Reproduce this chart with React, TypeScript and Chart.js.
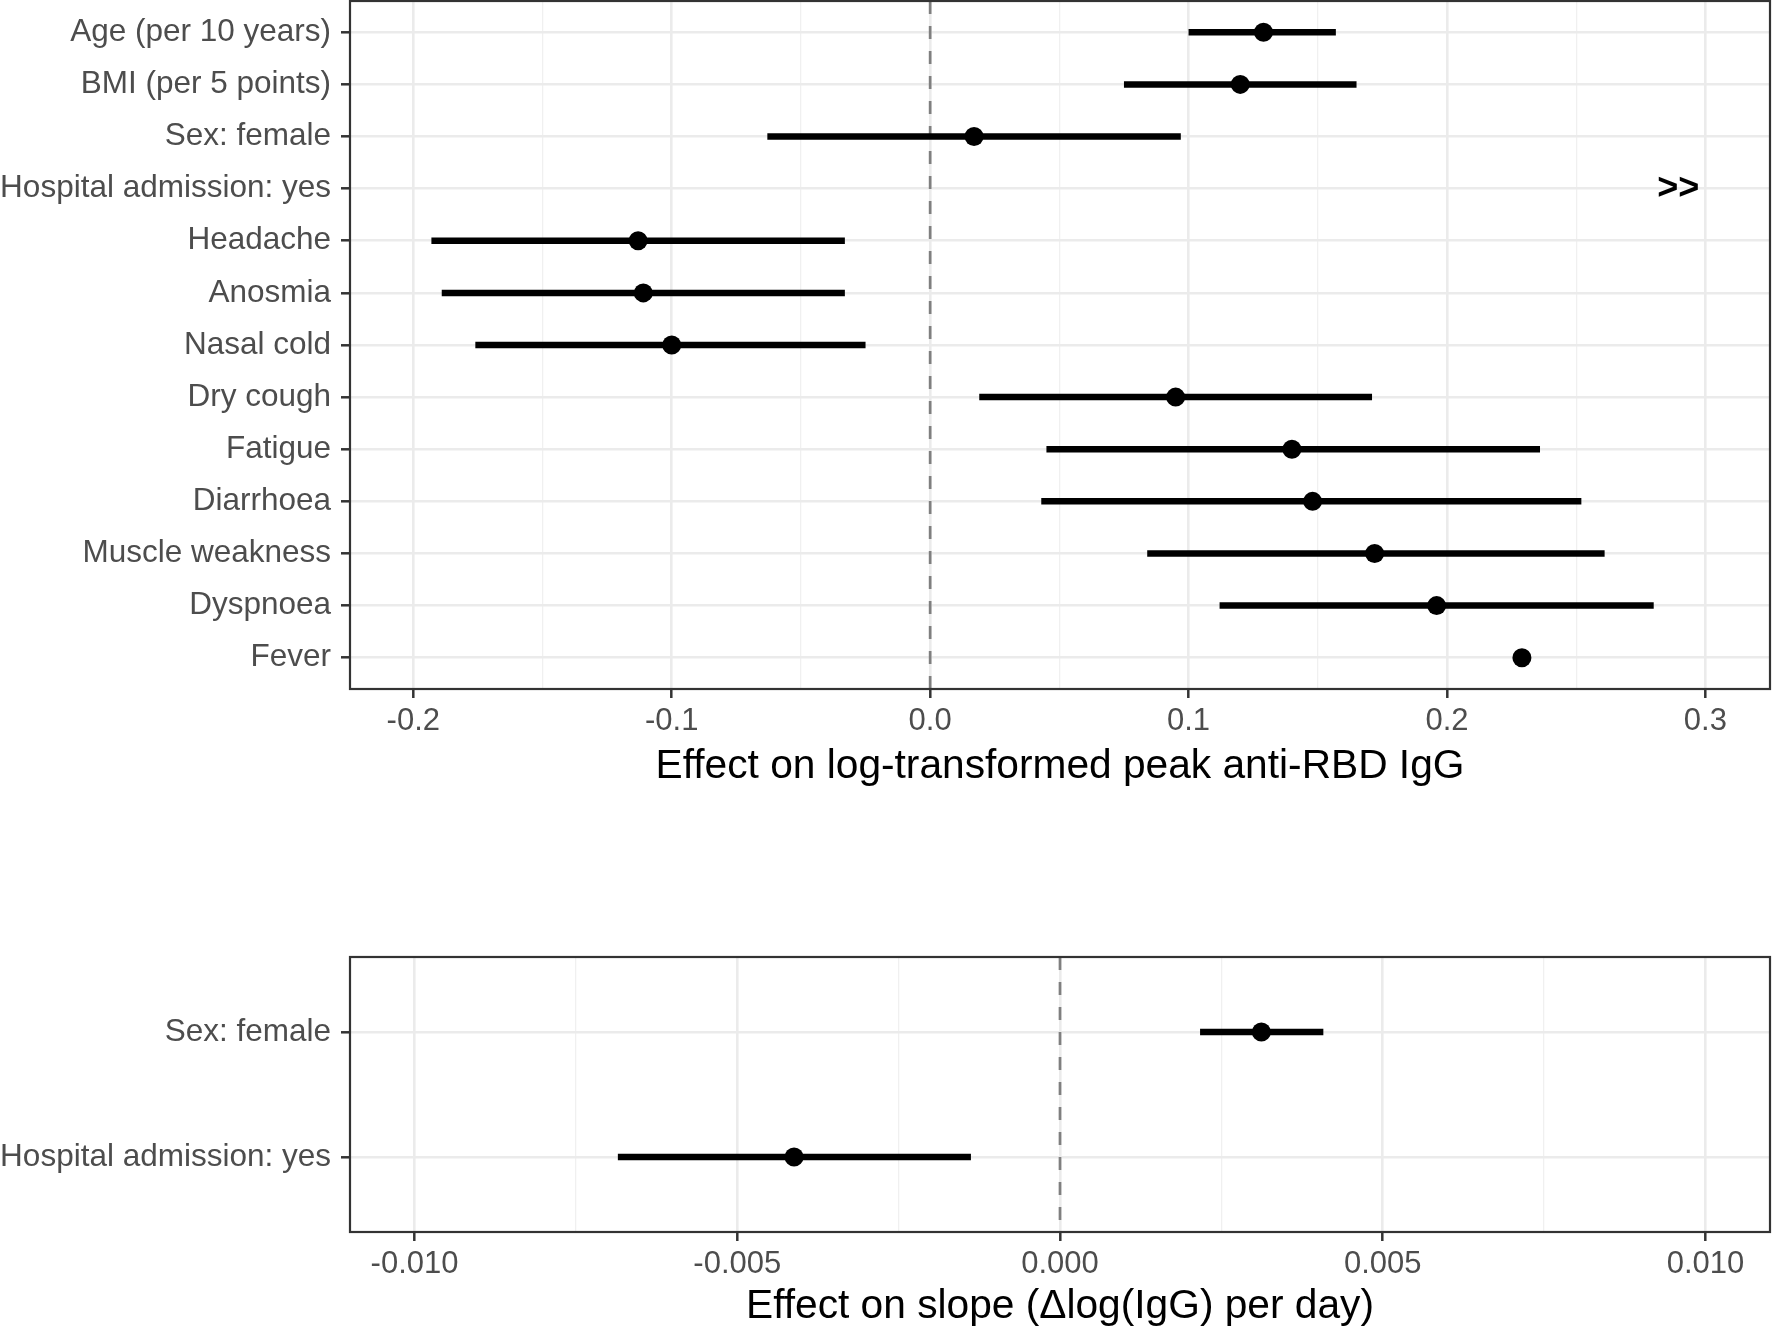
import React, { useEffect, useRef } from 'react';
import { Chart, registerables } from 'chart.js';

Chart.register(...registerables);

// ---------- Data: top panel (peak anti-RBD IgG) ----------
const topLabels = [
  'Age (per 10 years)',
  'BMI (per 5 points)',
  'Sex: female',
  'Hospital admission: yes',
  'Headache',
  'Anosmia',
  'Nasal cold',
  'Dry cough',
  'Fatigue',
  'Diarrhoea',
  'Muscle weakness',
  'Dyspnoea',
  'Fever',
];
const topEstimate: (number | null)[] = [0.129, 0.120, 0.017, null, -0.113, -0.111, -0.100, 0.095, 0.140, 0.148, 0.172, 0.196, 0.229];
const topLower: (number | null)[] = [0.100, 0.075, -0.063, null, -0.193, -0.189, -0.176, 0.019, 0.045, 0.043, 0.084, 0.112, null];
const topUpper: (number | null)[] = [0.157, 0.165, 0.097, null, -0.033, -0.033, -0.025, 0.171, 0.236, 0.252, 0.261, 0.280, null];
const topMarkerRow = 3;
const topMarkerX = 0.2895;
const topMarkerText = '>>';
const topXMin = -0.2245;
const topXMax = 0.325;
const topMajorTicks = [-0.2, -0.1, 0, 0.1, 0.2, 0.3];
const topMajorLabels = ['-0.2', '-0.1', '0.0', '0.1', '0.2', '0.3'];
const topMinorTicks = [-0.15, -0.05, 0.05, 0.15, 0.25];
const topTitle = 'Effect on log-transformed peak anti-RBD IgG';

// ---------- Data: bottom panel (slope) ----------
const bottomLabels = ['Sex: female', 'Hospital admission: yes'];
const bottomEstimate: (number | null)[] = [0.00312, -0.00412];
const bottomLower: (number | null)[] = [0.00217, -0.00685];
const bottomUpper: (number | null)[] = [0.00408, -0.00138];
const bottomXMin = -0.011;
const bottomXMax = 0.011;
const bottomMajorTicks = [-0.01, -0.005, 0, 0.005, 0.01];
const bottomMajorLabels = ['-0.010', '-0.005', '0.000', '0.005', '0.010'];
const bottomMinorTicks = [-0.0075, -0.0025, 0.0025, 0.0075];
const bottomTitle = 'Effect on slope (\u0394log(IgG) per day)';

const FONT = "'Liberation Sans', Arial, Helvetica, sans-serif";

interface PanelSpec {
  labels: string[];
  est: (number | null)[];
  lo: (number | null)[];
  hi: (number | null)[];
  xMin: number;
  xMax: number;
  major: number[];
  majorLabels: string[];
  minor: number[];
  title: string;
  marker?: { row: number; x: number; text: string };
  padTop: number;
  plotBottom: number; // chart area bottom within canvas
  height: number;
}

function zeroPad(scale: any) {
  scale.paddingTop = 0;
  scale.paddingBottom = 0;
  scale.paddingLeft = 0;
  scale.paddingRight = 0;
}

function buildConfig(p: PanelSpec): any {
  const n = p.labels.length;
  const yMin = -0.6;
  const yMax = n - 1 + 0.6;
  const isMajor = (v: number) => p.major.some((m) => Math.abs(m - v) < 1e-9);
  const allX = [...p.major, ...p.minor].sort((a, b) => a - b);

  const pointData = p.est
    .map((v, i) => (v == null ? null : { x: v, y: i }))
    .filter((d) => d !== null);

  const ciSets = p.lo
    .map((lo, i) => {
      const hi = p.hi[i];
      if (lo == null || hi == null) return null;
      return {
        type: 'line',
        data: [
          { x: lo, y: i },
          { x: hi, y: i },
        ],
        borderColor: '#000000',
        borderWidth: 6.5,
        borderCapStyle: 'butt',
        pointRadius: 0,
        showLine: true,
        fill: false,
      };
    })
    .filter((d) => d !== null);

  const datasets: any[] = [
    {
      type: 'scatter',
      data: pointData,
      backgroundColor: '#000000',
      borderColor: '#000000',
      pointRadius: 9.5,
      pointBorderWidth: 0,
    },
    ...ciSets,
    {
      type: 'line',
      data: [
        { x: 0, y: yMin },
        { x: 0, y: yMax },
      ],
      borderColor: '#7F7F7F',
      borderWidth: 2.7,
      borderDash: [13, 12],
      pointRadius: 0,
      fill: false,
    },
  ];

  const overlay = {
    id: 'panelOverlay',
    afterDatasetsDraw(chart: any) {
      const { ctx, chartArea, scales } = chart;
      ctx.save();
      if (p.marker) {
        ctx.fillStyle = '#000000';
        ctx.font = `bold 36px ${FONT}`;
        ctx.textAlign = 'center';
        ctx.textBaseline = 'middle';
        ctx.fillText(
          p.marker.text,
          scales.x.getPixelForValue(p.marker.x),
          scales.y.getPixelForValue(p.marker.row)
        );
      }
      ctx.strokeStyle = '#333333';
      ctx.lineWidth = 2.2;
      ctx.strokeRect(chartArea.left, chartArea.top, chartArea.right - chartArea.left, chartArea.bottom - chartArea.top);
      ctx.restore();
    },
  };

  const bg = {
    id: 'whiteBg',
    beforeDraw(chart: any) {
      const { ctx, width, height } = chart;
      ctx.save();
      ctx.fillStyle = '#ffffff';
      ctx.fillRect(0, 0, width, height);
      ctx.restore();
    },
  };

  return {
    type: 'scatter',
    data: { datasets },
    plugins: [bg, overlay],
    options: {
      responsive: false,
      animation: false,
      devicePixelRatio: 1,
      layout: { autoPadding: false, padding: { left: 0, right: 2, top: p.padTop, bottom: 0 } },
      plugins: {
        legend: { display: false },
        tooltip: { enabled: false },
        title: { display: false },
      },
      scales: {
        x: {
          type: 'linear',
          position: 'bottom',
          min: p.xMin,
          max: p.xMax,
          afterBuildTicks: (scale: any) => {
            scale.ticks = allX.map((v) => ({ value: v }));
          },
          afterFit: (scale: any) => {
            scale.height = p.height - p.plotBottom;
            zeroPad(scale);
          },
          border: { display: false },
          grid: {
            drawOnChartArea: true,
            drawTicks: true,
            tickLength: 9,
            tickWidth: 2.5,
            color: (ctx: any) => (ctx.tick && isMajor(ctx.tick.value) ? '#EBEBEB' : '#F0F0F0'),
            lineWidth: (ctx: any) => (ctx.tick && isMajor(ctx.tick.value) ? 2.6 : 1.3),
            tickColor: (ctx: any) => (ctx.tick && isMajor(ctx.tick.value) ? '#333333' : 'rgba(0,0,0,0)'),
          },
          ticks: {
            autoSkip: false,
            maxRotation: 0,
            minRotation: 0,
            padding: 5,
            color: '#4D4D4D',
            font: { family: FONT, size: 31 },
            callback: (value: any) => {
              const i = p.major.findIndex((m) => Math.abs(m - Number(value)) < 1e-9);
              return i >= 0 ? p.majorLabels[i] : '';
            },
          },
          title: {
            display: true,
            text: p.title,
            color: '#000000',
            padding: 0,
            font: { family: FONT, size: 40.7, lineHeight: 1.2 },
          },
        },
        y: {
          type: 'linear',
          position: 'left',
          min: yMin,
          max: yMax,
          reverse: true,
          afterBuildTicks: (scale: any) => {
            scale.ticks = p.labels.map((_, i) => ({ value: i }));
          },
          afterFit: (scale: any) => {
            scale.width = 350;
            zeroPad(scale);
          },
          border: { display: false },
          grid: {
            drawOnChartArea: true,
            drawTicks: true,
            tickLength: 9,
            tickWidth: 2.5,
            color: '#EBEBEB',
            lineWidth: 2.6,
            tickColor: '#333333',
          },
          ticks: {
            autoSkip: false,
            padding: 10,
            color: '#4D4D4D',
            font: { family: FONT, size: 31.5 },
            callback: (value: any) => p.labels[Math.round(Number(value))] ?? '',
          },
        },
      },
    },
  };
}

function Panel({ spec, top }: { spec: PanelSpec; top: number }) {
  const ref = useRef<HTMLCanvasElement | null>(null);
  useEffect(() => {
    if (!ref.current) return;
    const chart = new Chart(ref.current, buildConfig(spec));
    return () => chart.destroy();
  }, [spec]);
  return (
    <canvas
      ref={ref}
      width={1772}
      height={spec.height}
      style={{ position: 'absolute', left: 0, top, width: 1772, height: spec.height, display: 'block' }}
    />
  );
}

const topSpec: PanelSpec = {
  labels: topLabels,
  est: topEstimate,
  lo: topLower,
  hi: topUpper,
  xMin: topXMin,
  xMax: topXMax,
  major: topMajorTicks,
  majorLabels: topMajorLabels,
  minor: topMinorTicks,
  title: topTitle,
  marker: { row: topMarkerRow, x: topMarkerX, text: topMarkerText },
  padTop: 1,
  plotBottom: 689,
  height: 791,
};

const bottomSpec: PanelSpec = {
  labels: bottomLabels,
  est: bottomEstimate,
  lo: bottomLower,
  hi: bottomUpper,
  xMin: bottomXMin,
  xMax: bottomXMax,
  major: bottomMajorTicks,
  majorLabels: bottomMajorLabels,
  minor: bottomMinorTicks,
  title: bottomTitle,
  padTop: 7,
  plotBottom: 282,
  height: 381,
};

export default function App() {
  return (
    <div
      style={{
        position: 'fixed',
        left: 0,
        top: 0,
        width: 1772,
        height: 1330,
        background: '#ffffff',
        overflow: 'hidden',
      }}
    >
      <Panel spec={topSpec} top={0} />
      <Panel spec={bottomSpec} top={950} />
    </div>
  );
}
